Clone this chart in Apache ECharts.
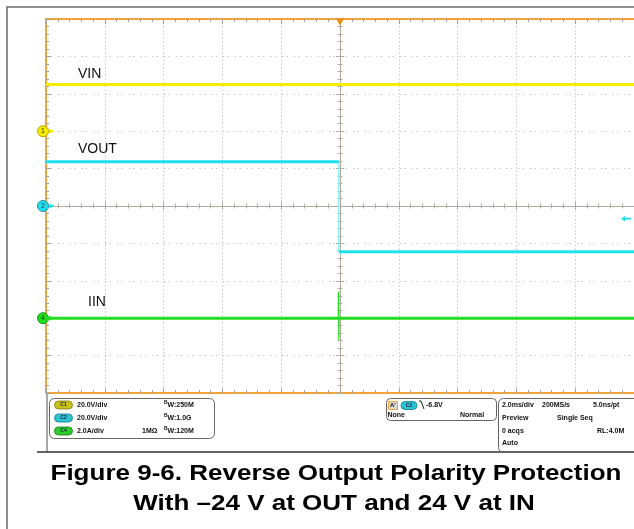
<!DOCTYPE html>
<html><head><meta charset="utf-8">
<script src="https://cdn.jsdelivr.net/npm/echarts@6/dist/echarts.min.js"></script>
<style>html,body{margin:0;padding:0;background:#fff}#c{width:634px;height:529px}</style>
</head><body><div id="c"></div>
<script>
// ---- data (time in ms, 2 ms/div) ----
const vinTimeMs = [-10, 10];
const vinVolts = [25, 25];
const voutTimeMs = [-10, -0.04, -0.04, 10];
const voutVolts = [23.7, 23.7, -24.4, -24.4];
const iinTimeMs = [-10, 10];
const iinAmps = [0, 0];
const iinSpikeTimeMs = [-0.06, -0.05, -0.04, -0.03];
const iinSpikeAmps = [0, 1.42, -1.16, 0];
const triggerLevelVolts = -6.8;
const traceLabels = ['VIN', 'VOUT', 'IIN'];
const chSettings = ['20.0V/div', '20.0V/div', '2.0A/div'];
const chBandwidth = ['250M', '1.0G', '120M'];
const timebaseRows = [['2.0ms/div', '200MS/s', '5.0ns/pt'], ['Preview', 'Single Seq', ''], ['0 acqs', '', 'RL:4.0M'], ['Auto', '', '']];
const titleLines = ['Figure 9-6. Reverse Output Polarity Protection', 'With \u201324 V at OUT and 24 V at IN'];

// ---- styling ----
const orange = '#f2a33a';
const tickGray = '#a89f94';
const dotGray = '#c8c8c8';
const centerGray = '#b3aa9e';
const cYellow = '#f5ec00';
const cCyan = '#1fe0ee';
const cGreen = '#22dd22';
const FONT = '"Liberation Sans", Arial, sans-serif';

function pts(t, v) { return t.map((x, i) => [x, v[i]]); }

function edgeX(pos) {
  return {
    type: 'value', gridIndex: 0, position: pos, min: -10, max: 10, interval: 2,
    axisLine: { show: true, onZero: false, lineStyle: { color: orange, width: 2 } },
    axisTick: { show: true, inside: true, length: 5, lineStyle: { color: tickGray } },
    minorTick: { show: true, splitNumber: 5, length: 3, lineStyle: { color: tickGray } },
    axisLabel: { show: false },
    splitLine: { show: pos === 'bottom', lineStyle: { color: dotGray, type: [1.5, 2.2], width: 1 } }
  };
}
function centerX(inside) {
  return {
    type: 'value', gridIndex: 0, position: 'bottom', min: -10, max: 10, interval: 2,
    axisLine: { show: true, onZero: true, onZeroAxisIndex: 0, lineStyle: { color: centerGray, width: 1 } },
    axisTick: { show: true, inside: inside, length: 4, lineStyle: { color: centerGray } },
    minorTick: { show: true, splitNumber: 5, length: 2.5, lineStyle: { color: centerGray } },
    axisLabel: { show: false }, splitLine: { show: false }
  };
}
function centerY(inside) {
  return {
    type: 'value', gridIndex: 0, position: 'left', min: -5, max: 5, interval: 1,
    axisLine: { show: true, onZero: true, onZeroAxisIndex: 0, lineStyle: { color: centerGray, width: 1 } },
    axisTick: { show: true, inside: inside, length: 4, lineStyle: { color: centerGray } },
    minorTick: { show: true, splitNumber: 5, length: 2.5, lineStyle: { color: centerGray } },
    axisLabel: { show: false }, splitLine: { show: false }
  };
}
function hiddenY(min, max) { return { type: 'value', gridIndex: 0, show: false, min: min, max: max, splitLine: { show: false } }; }

function chMarker(num, color, border, yAxisVal) {
  return [
    { coord: [-10, yAxisVal], symbol: 'triangle', symbolRotate: -90, symbolSize: 5, symbolOffset: [6, 0],
      itemStyle: { color: color }, label: { show: false } },
    { coord: [-10, yAxisVal], symbol: 'circle', symbolSize: 11, symbolOffset: [-3, 0],
      itemStyle: { color: color, borderColor: border, borderWidth: 1 },
      label: { show: true, position: 'inside', formatter: String(num), color: '#333', fontSize: 7, fontFamily: FONT } }
  ];
}

const voutLevels = [];
voutTimeMs.forEach((t, i) => { voutLevels.push([t, voutVolts[i]]); if (i === 1) voutLevels.push([t, '-']); });

function txt(s, x, y, o) {
  o = o || {};
  return {
    type: 'text', x: x, y: y, z: 100, scaleX: o.scaleX || 1,
    style: {
      text: s, fill: o.fill || '#111', font: o.font || ('bold 7px ' + FONT),
      textAlign: o.align || 'left', align: o.align || 'left',
      textVerticalAlign: o.va || 'middle', verticalAlign: o.va || 'middle'
    }
  };
}
function badge(label, x, y, w, fill, stroke) {
  return [
    { type: 'rect', z: 100, shape: { x: x, y: y - 4, width: w, height: 8, r: 4 }, style: { fill: fill, stroke: stroke, lineWidth: 0.8 } },
    txt(label, x + w / 2, y, { align: 'center', font: 'bold 5px ' + FONT, fill: '#224' })
  ];
}

const rowsY = [405, 418, 431, 443];
const graphics = [
  { type: 'polyline', z: 100, shape: { points: [[7, 540], [7, 7], [640, 7]] }, style: { stroke: '#6b6b6b', lineWidth: 1.5, fill: null } },
  { type: 'line', z: 100, shape: { x1: 47, y1: 394, x2: 47, y2: 452 }, style: { stroke: '#555', lineWidth: 1 } },
  { type: 'line', z: 100, shape: { x1: 37, y1: 452, x2: 640, y2: 452 }, style: { stroke: '#333', lineWidth: 1.5 } },
  { type: 'rect', z: 100, shape: { x: 49.5, y: 398.5, width: 165, height: 40, r: 5 }, style: { fill: null, stroke: '#666', lineWidth: 1 } },
  { type: 'rect', z: 100, shape: { x: 386.5, y: 398.5, width: 110, height: 22, r: 4 }, style: { fill: null, stroke: '#666', lineWidth: 1 } },
  { type: 'rect', z: 100, shape: { x: 498.5, y: 398.5, width: 160, height: 54, r: 5 }, style: { fill: null, stroke: '#666', lineWidth: 1 } },
  // A' box
  { type: 'rect', z: 100, shape: { x: 388.5, y: 401.5, width: 9, height: 8 }, style: { fill: '#d8d8d8', stroke: orange, lineWidth: 1 } },
  txt("A'", 390, 405.5, { font: 'bold 6px ' + FONT }),
  { type: 'polyline', z: 100, shape: { points: [[419, 401], [421, 401], [424, 409]] }, style: { stroke: '#222', lineWidth: 1, fill: null } },
  txt(triggerLevelVolts.toFixed(1) + 'V', 426, 405),
  txt('None', 387.5, 415),
  txt('Normal', 460, 415),
  ...badge('C2', 401, 405.5, 16, '#2cc4d4', '#137a88'),
  txt('1M\u03a9', 142, rowsY[2])
];
const badgeCols = [['C1', '#c9c21a', '#7d7a10'], ['C2', '#2cc4d4', '#137a88'], ['C4', '#2ccc2c', '#157a15']];
chSettings.forEach((s, i) => {
  graphics.push(...badge(badgeCols[i][0], 54.5, rowsY[i], 18, badgeCols[i][1], badgeCols[i][2]));
  graphics.push(txt(s, 77, rowsY[i]));
  graphics.push(txt('B', 164, rowsY[i] - 2, { font: 'bold 5px ' + FONT }));
  graphics.push(txt('W:' + chBandwidth[i], 167.5, rowsY[i] + 0.5));
});
const tbX = [502, 542, 593];
const tbX2 = [502, 557, 597];
timebaseRows.forEach((row, r) => {
  row.forEach((s, c) => { if (s) graphics.push(txt(s, r === 0 ? tbX[c] : tbX2[c], rowsY[r])); });
});
const labelPos = [[78, 67], [78, 142], [88, 295]];
traceLabels.forEach((s, i) => graphics.push(txt(s, labelPos[i][0], labelPos[i][1], { font: '14px ' + FONT, va: 'top', fill: '#111' })));
graphics.push(txt(titleLines[0], 336, 474, { font: 'bold 21.5px ' + FONT, align: 'center', scaleX: 1.21, fill: '#000' }));
graphics.push(txt(titleLines[1], 334, 504, { font: 'bold 21.5px ' + FONT, align: 'center', scaleX: 1.21, fill: '#000' }));

const option = {
  animation: false,
  backgroundColor: '#fff',
  grid: { left: 46, top: 19, width: 592, height: 374, containLabel: false, show: false },
  xAxis: [edgeX('bottom'), edgeX('top'), centerX(true), centerX(false)],
  yAxis: [
    {
      type: 'value', gridIndex: 0, position: 'left', min: -5, max: 5, interval: 1,
      axisLine: { show: true, onZero: false, lineStyle: { color: orange, width: 2 } },
      axisTick: { show: true, inside: true, length: 5, lineStyle: { color: tickGray } },
      minorTick: { show: true, splitNumber: 5, length: 3, lineStyle: { color: tickGray } },
      axisLabel: { show: false },
      splitLine: { show: true, lineStyle: { color: dotGray, type: [1.5, 3, 1.5, 5.8], width: 1 } }
    },
    centerY(true), centerY(false),
    hiddenY(-140, 60),   // CH1 20 V/div, +2 div offset
    hiddenY(-100, 100),  // CH2 20 V/div
    hiddenY(-4, 16)      // CH4 2 A/div, -3 div offset
  ],
  series: [
    {
      name: 'VIN', type: 'line', xAxisIndex: 0, yAxisIndex: 3, symbol: 'none', data: pts(vinTimeMs, vinVolts),
      lineStyle: { color: cYellow, width: 3 }, itemStyle: { color: cYellow }, z: 5,
      markPoint: { silent: true, data: chMarker(1, cYellow, '#b9a900', 0) }
    },
    {
      name: 'VOUT', type: 'line', xAxisIndex: 0, yAxisIndex: 4, symbol: 'none', data: voutLevels, connectNulls: false,
      lineStyle: { color: cCyan, width: 3 }, itemStyle: { color: cCyan }, z: 4,
      markPoint: {
        silent: true, data: chMarker(2, cCyan, '#139aa6', 0).concat([
          { coord: [0, 100], symbol: 'triangle', symbolRotate: 180, symbolSize: [8, 7], symbolOffset: [0, 3], itemStyle: { color: '#f08a00' }, label: { show: false } },
          { coord: [9.73, triggerLevelVolts], symbol: 'path://M0,5 L5,0 L5,3.5 L12,3.5 L12,6.5 L5,6.5 L5,10 Z', symbolSize: [10, 6], itemStyle: { color: cCyan }, label: { show: false } }
        ])
      }
    },
    {
      name: 'VOUT edge', type: 'line', xAxisIndex: 0, yAxisIndex: 4, symbol: 'none',
      data: [[voutTimeMs[1], voutVolts[1]], [voutTimeMs[2], voutVolts[2]]],
      lineStyle: { color: '#8ff0f6', width: 1.5 }, z: 3
    },
    {
      name: 'IIN', type: 'line', xAxisIndex: 0, yAxisIndex: 5, symbol: 'none', data: pts(iinTimeMs, iinAmps),
      lineStyle: { color: cGreen, width: 3 }, itemStyle: { color: cGreen }, z: 6,
      markPoint: { silent: true, data: chMarker(4, cGreen, '#119911', 0) }
    },
    {
      name: 'IIN spike', type: 'line', xAxisIndex: 0, yAxisIndex: 5, symbol: 'none', data: pts(iinSpikeTimeMs, iinSpikeAmps),
      lineStyle: { color: cGreen, width: 1.2 }, z: 6
    }
  ],
  graphic: graphics
};
const chart = echarts.init(document.getElementById('c'), null, { renderer: 'canvas' });
chart.setOption(option);
</script></body></html>
